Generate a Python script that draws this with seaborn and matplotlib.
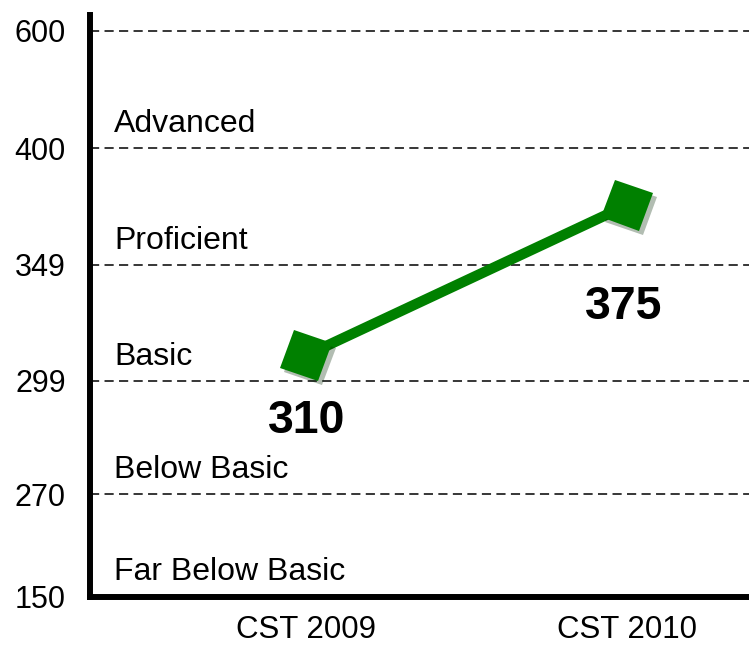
import numpy as np
import pandas as pd
import matplotlib
matplotlib.use("Agg")
import matplotlib.pyplot as plt
import matplotlib.patheffects as pe
from matplotlib.markers import MarkerStyle
from matplotlib.transforms import Affine2D, blended_transform_factory
import seaborn as sns

# ---- data ----
tests = ["CST 2009", "CST 2010"]
scores = [310, 375]
score_labels = ["310", "375"]
cut_scores = [150, 270, 299, 349, 400, 600]
band_names = ["Far Below Basic", "Below Basic", "Basic", "Proficient", "Advanced"]

sns.set_theme(style="white")
plt.rcParams["font.family"] = ["Liberation Sans", "DejaVu Sans"]

W, H = 749, 645
fig = plt.figure(figsize=(W / 100, H / 100), dpi=100)
ax_left, ax_bottom_px, ax_top_px = 89.5, 596.5, 15
ax = fig.add_axes([ax_left / W, (H - ax_bottom_px) / H, 1 - ax_left / W,
                   (ax_bottom_px - ax_top_px) / H])

# piecewise band scale (equal-ish band heights)
anchor_vals = [150, 270, 299, 349, 400, 600, 800]
anchor_pos = [0, 102.5, 215.5, 331.5, 448.5, 565.5, 682.5]

def fwd(v):
    return np.interp(v, anchor_vals, anchor_pos)

def inv(p):
    return np.interp(p, anchor_pos, anchor_vals)

ax.set_yscale("function", functions=(fwd, inv))

df = pd.DataFrame({"test": tests, "score": scores})
marker = MarkerStyle("s", transform=Affine2D().rotate_deg(-20))
sns.lineplot(data=df, x="test", y="score", ax=ax, color="#008000",
             linewidth=7.5, marker=marker, markersize=29,
             markeredgewidth=0, zorder=5,
             path_effects=[pe.SimplePatchShadow(offset=(3, -3), alpha=0.3),
                           pe.Normal()])

# dashed band boundaries
for c in cut_scores[1:]:
    ax.axhline(c, color="black", linewidth=1.1, dashes=(6, 3.5), zorder=2)

ax.set_ylim(150, inv(ax_bottom_px - ax_top_px))
ax.set_xlim((91 - 307) / 320, (749 - 307) / 320)

ax.set_yticks(cut_scores)
ax.set_yticklabels([str(c) for c in cut_scores])
ax.tick_params(axis="y", length=0, pad=17, labelsize=22, labelcolor="black")
ax.tick_params(axis="x", length=0, pad=13, labelsize=22.5, labelcolor="black")
ax.set_xlabel("")
ax.set_ylabel("")

for s in ["top", "right"]:
    ax.spines[s].set_visible(False)
for s in ["left", "bottom"]:
    ax.spines[s].set_linewidth(4.3)
    ax.spines[s].set_color("black")
    ax.spines[s].set_capstyle("projecting")

# band names
trans = blended_transform_factory(ax.transAxes, ax.transData)
for name, lower in zip(band_names, cut_scores[:-1]):
    ax.annotate(name, xy=(0.037, lower), xycoords=trans,
                xytext=(0, 16), textcoords="offset pixels",
                ha="left", va="baseline", fontsize=23, color="black")

# value labels
offsets = [(1, -66), (-3, -102)]
for i, (lab, off) in enumerate(zip(score_labels, offsets)):
    ax.annotate(lab, xy=(i, scores[i]), xytext=off,
                textcoords="offset pixels", ha="center", va="center",
                fontsize=33.5, fontweight="bold", color="black")

fig.savefig("out.png", dpi=100)
